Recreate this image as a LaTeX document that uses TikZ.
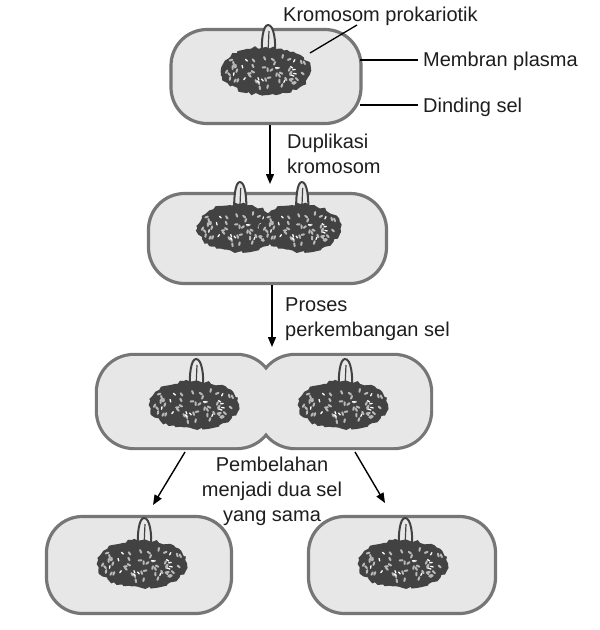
\documentclass[tikz,border=0pt]{standalone}
\usepackage{fontspec}
\setmainfont{Liberation Sans}
\usetikzlibrary{arrows.meta,decorations.pathmorphing}
\definecolor{cellfill}{RGB}{231,231,231}
\definecolor{cellline}{RGB}{118,118,118}
\definecolor{chromodark}{RGB}{66,66,66}
\definecolor{chromolight}{RGB}{185,185,185}
\definecolor{textcol}{RGB}{30,30,30}
\tikzset{
  cell/.style={rectangle, draw=cellline, line width=3.2pt, fill=cellfill, rounded corners=36pt, inner sep=0pt, outer sep=0pt},
  cellout/.style={rectangle, draw=cellline, line width=6.4pt, rounded corners=36pt, inner sep=0pt, outer sep=0pt},
  cellin/.style={rectangle, fill=cellfill, rounded corners=36pt, inner sep=0pt, outer sep=0pt},
  lbl/.style={font=\fontsize{20}{25}\selectfont, text=textcol, inner sep=0pt},
  arr/.style={draw=black, line width=1.4pt, -{Triangle[length=10pt,width=8pt]}},
  lead/.style={draw=black, line width=1.3pt},
  chromo/.pic={
    \draw[chromodark, line width=2pt, fill=cellfill] (-4,-15) .. controls (-5,-30) and (-3,-46) .. (2,-46) .. controls (8,-46) and (10,-30) .. (9,-15);
    \draw[chromodark, line width=1.2pt] (2,-18) -- (3,-40);
    \fill[chromodark, decorate, decoration={random steps,segment length=3.5pt,amplitude=1.6pt}] (0,0) ellipse [x radius=45, y radius=24];
    \pgfmathsetseed{11}
    \foreach \i in {1,...,48}{
      \pgfmathsetmacro{\px}{39*rand}
      \pgfmathsetmacro{\py}{18*rand*sqrt(1-(\px/45)^2)}
      \pgfmathsetmacro{\an}{360*rnd}
      \draw[chromolight, line width=2pt, line cap=round] (\px,\py) -- ++(\an:2.8);
    }
    \foreach \i in {1,...,14}{
      \pgfmathsetmacro{\px}{34*rand}
      \pgfmathsetmacro{\py}{15*rand*sqrt(1-(\px/45)^2)}
      \pgfmathsetmacro{\an}{360*rnd}
      \draw[white, line width=1.3pt, line cap=round] (\px,\py) -- ++(\an:2.5);
    }
  }
}
\begin{document}
\begin{tikzpicture}[x=1pt,y=-1pt]
\useasboundingbox (0,0) rectangle (600,630);
\fill[white] (0,0) rectangle (600,630);

% cell 1
\node[cell, minimum width=190pt, minimum height=94pt] (c1) at (266,76.5) {};
\pic (k1) at (266,71) {chromo};

% cell 2
\node[cell, minimum width=238pt, minimum height=90pt] (c2) at (267.5,238.5) {};
\pic[xscale=0.9] (k2a) at (238,228) {chromo};
\pic[xscale=0.9] (k2b) at (300,228) {chromo};

% cell 3 (dividing)
\node[cellout, minimum width=175pt, minimum height=91pt] (c3a) at (185.5,401.5) {};
\node[cellout, minimum width=171pt, minimum height=91pt] (c3b) at (344.5,401.5) {};
\node[cellin, minimum width=175pt, minimum height=91pt] (c3af) at (185.5,401.5) {};
\node[cellin, minimum width=171pt, minimum height=91pt] (c3bf) at (344.5,401.5) {};
\pic (k3a) at (194,405) {chromo};
\pic (k3b) at (343,405) {chromo};

% daughter cells
\node[cell, minimum width=185pt, minimum height=97pt] (c4) at (139,565) {};
\pic (k4) at (142,564) {chromo};
\node[cell, minimum width=187pt, minimum height=97pt] (c5) at (402,565) {};
\pic (k5) at (403,564) {chromo};

% labels
\node[lbl, anchor=base west] (kp) at (283,21) {Kromosom prokariotik};
\node[lbl, anchor=base west] (mp) at (423,66) {Membran plasma};
\node[lbl, anchor=base west] (ds) at (423,112) {Dinding sel};
\coordinate (kpA) at (357,25);
\coordinate (kpB) at (310,53);
\draw[lead] (kpA) -- (kpB);
\coordinate (mpA) at (360,60);
\coordinate (mpB) at (418,60);
\draw[lead] (mpA) -- (mpB);
\coordinate (dsA) at (360,105);
\coordinate (dsB) at (418,105);
\draw[lead] (dsA) -- (dsB);

% step arrows
\coordinate (a1s) at (270,125);
\coordinate (a1e) at (270,184);
\draw[arr] (a1s) -- (a1e);
\node[lbl, anchor=north west, align=left] (dup) at (287,134) {Duplikasi\\kromosom};

\coordinate (a2s) at (272,285);
\coordinate (a2e) at (272,347);
\draw[arr] (a2s) -- (a2e);
\node[lbl, anchor=north west, align=left] (pro) at (285,298) {Proses\\perkembangan sel};

\coordinate (a3s) at (185,452);
\coordinate (a3e) at (153,505);
\draw[arr] (a3s) -- (a3e);
\coordinate (a4s) at (355,452);
\coordinate (a4e) at (385,503);
\draw[arr] (a4s) -- (a4e);
\node[lbl, anchor=north, align=center] (pem) at (272,457) {Pembelahan\\menjadi dua sel\\yang sama};
\end{tikzpicture}
\end{document}
